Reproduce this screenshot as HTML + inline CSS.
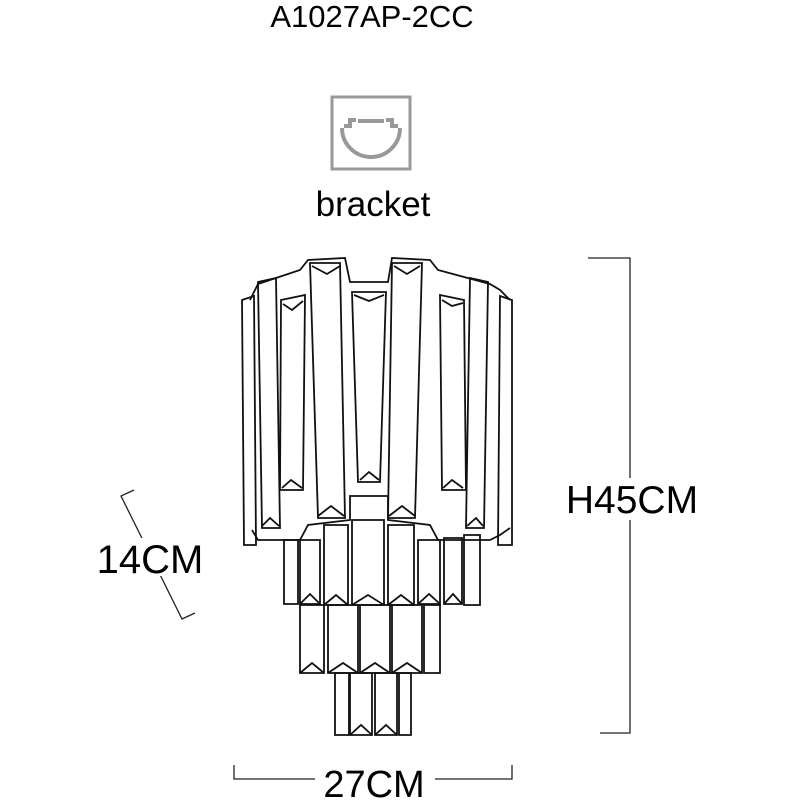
<!DOCTYPE html>
<html><head><style>body{margin:0;background:#fff}svg{display:block}</style></head><body>
<svg width="800" height="800" xmlns="http://www.w3.org/2000/svg" font-family="Liberation Sans, sans-serif">
<rect width="800" height="800" fill="#fff"/>
<text x="372" y="27" font-size="31" text-anchor="middle">A1027AP-2CC</text>
<rect x="332" y="97" width="78" height="72" fill="none" stroke="#999" stroke-width="3"/>
<g fill="none" stroke="#999" stroke-width="4">
<path d="M342 128 A29 29 0 0 0 400 128"/>
<path d="M344 126 h6 v-6 h6 M386 120 h6 v6 h6"/>
<path d="M358 121 h26"/>
</g>
<text x="373" y="216" font-size="35" text-anchor="middle">bracket</text>
<g fill="none" stroke="#111" stroke-width="1.8">
<path d="M250 300 L258 284 L300 270 L308 260 L345 258 L350 282 L388 282 L392 258 L430 260 L438 270 L490 284 L500 290 L510 300"/>
<path d="M252 530 L258 540 L300 540 L308 525 L350 520 L350 496 L388 496 L388 520 L430 525 L438 540 L490 540 L500 535 L510 528"/>
<path d="M242 300 L254 296 L256 545 L244 545 Z"/>
<path d="M500 296 L512 300 L512 545 L498 545 Z"/>
<path d="M258 282 L276 278 L280 528 L262 528 Z"/>
<path d="M470 278 L488 282 L484 528 L466 528 Z"/>
<path d="M281 300 L305 295 L303 490 L280 490 Z"/>
<path d="M440 295 L464 300 L466 490 L442 490 Z"/>
<path d="M310 263 L340 263 L345 518 L318 518 Z"/>
<path d="M392 263 L422 263 L415 518 L388 518 Z"/>
<path d="M352 292 L386 292 L380 482 L358 482 Z"/>
<path d="M312 266 L327 274 L340 266 M394 266 L407 274 L420 266 M354 295 L369 301 L384 295 M318 516 L331 506 L344 516 M389 516 L402 506 L415 516 M360 480 L369 472 L379 480 M282 488 L291 480 L302 488 M443 488 L452 480 L463 488 M262 526 L270 518 L279 526 M467 526 L476 518 L483 526 M283 304 L292 310 L303 301 M442 300 L452 306 L463 303"/>
<path d="M300 540 h20 v64 h-20 Z M324 525 h24 v80 h-24 Z M352 520 h32 v85 h-32 Z M388 525 h26 v80 h-26 Z M418 540 h22 v64 h-22 Z M444 538 h18 v66 h-18 Z M464 535 h16 v70 h-16 Z M284 540 h14 v64 h-14 Z"/>
<path d="M300 604 l10 -10 l10 10 M324 605 l12 -10 l12 10 M352 605 l16 -10 l16 10 M388 605 l13 -10 l13 10 M418 604 l11 -10 l11 10 M444 604 l9 -10 l9 10"/>
<path d="M300 605 h24 v68 h-24 Z M328 605 h30 v68 h-30 Z M360 605 h30 v68 h-30 Z M392 605 h30 v68 h-30 Z M424 605 h16 v68 h-16 Z"/>
<path d="M300 673 l12 -10 l12 10 M328 673 l15 -10 l15 10 M360 673 l15 -10 l15 10 M392 673 l15 -10 l15 10"/>
<path d="M335 673 h14 v62 h-14 Z M350 673 h22 v62 h-22 Z M375 673 h22 v62 h-22 Z M399 673 h12 v62 h-12 Z"/>
<path d="M350 735 l11 -10 l11 10 M375 735 l11 -10 l11 10"/>
</g>
<g fill="none" stroke="#222" stroke-width="1.3">
<path d="M588 258 H630 V733 H600"/>
<path d="M234 765 V779 H512 V765"/>
<path d="M134 490 L121 496 L182 619 L195 613"/>
</g>
<rect x="558" y="478" width="146" height="42" fill="#fff"/>
<text x="632" y="513" font-size="39" text-anchor="middle">H45CM</text>
<rect x="315" y="760" width="120" height="40" fill="#fff"/>
<text x="374" y="797" font-size="38" text-anchor="middle">27CM</text>
<rect x="93" y="538" width="116" height="38" fill="#fff"/>
<text x="150" y="573" font-size="40" text-anchor="middle">14CM</text>
</svg>
</body></html>
